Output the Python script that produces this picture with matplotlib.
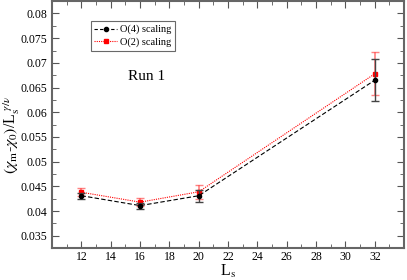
import numpy as np
import matplotlib.pyplot as plt
from matplotlib.lines import Line2D
from matplotlib.ticker import MultipleLocator

plt.rcParams['font.family'] = ['Liberation Serif', 'DejaVu Serif']
plt.rcParams['mathtext.fontset'] = 'stix'

Ls = [12, 16, 20, 32]
o4 = [0.0431, 0.0411, 0.0431, 0.0665]
o4_err = [0.0006, 0.0006, 0.0012, 0.0042]
o2 = [0.0438, 0.0418, 0.0439, 0.0678]
o2_err = [0.0008, 0.0008, 0.0014, 0.0043]

fig = plt.figure(figsize=(4.07, 2.8), dpi=100)
ax = fig.add_axes([0.128, 0.114, 0.865, 0.882])

ax.errorbar(Ls, o4, yerr=o4_err, color='black', ls=(0, (4, 2)), lw=0.8,
            marker='o', ms=3, capsize=3, elinewidth=1, ecolor='#444444', zorder=3)
ax.errorbar(Ls, o2, yerr=o2_err, color='red', ls=(0, (1, 1)), lw=0.8,
            marker='s', ms=3, capsize=3, elinewidth=1.2, ecolor=(1, 0.3, 0.3, 0.7), zorder=2)

ax.set_xlim(10, 34)
ax.set_ylim(0.0325, 0.0825)
ax.xaxis.set_minor_locator(MultipleLocator(1))
ax.yaxis.set_major_locator(MultipleLocator(0.005))
ax.yaxis.set_minor_locator(MultipleLocator(0.0025))
ax.set_xticks(np.arange(12, 33, 2))
ax.tick_params(which='both', direction='in', top=True, right=True, labelsize=8.5, color='#555555')
ax.tick_params(which='major', length=5)
ax.tick_params(which='minor', length=3)
ax.tick_params(axis='x', pad=2)
ax.yaxis.set_major_formatter(plt.FuncFormatter(lambda v, p: ('%.3f' % v).rstrip('0')))
for s in ax.spines.values():
    s.set_color('#666666')
    s.set_linewidth(1.5)

ax.set_xlabel(r'L$_\mathrm{s}$', fontsize=11.5, labelpad=0)
fig.text(12 / 407, 0.52, r'$(\chi_\mathrm{m}$-$\chi_0)$/L$_\mathrm{s}^{\ \gamma/\nu}$',
         fontsize=11.5, rotation=90, ha='center', va='center')
ax.text(15.2, 0.0665, 'Run 1', fontsize=11)

handles = [Line2D([], [], color='black', ls=(0, (3, 2)), lw=0.8, marker='o', ms=3),
           Line2D([], [], color='red', ls=(0, (1, 1)), lw=0.8, marker='s', ms=3)]
leg = ax.legend(handles, ['O(4) scaling', 'O(2) scaling'], loc='upper left',
                bbox_to_anchor=(0.095, 0.94), fontsize=7.5,
                frameon=True, fancybox=False, edgecolor='#444444',
                handlelength=2.2, borderpad=0.35, labelspacing=0.3, handletextpad=0.3)
leg.get_frame().set_linewidth(0.8)

fig.savefig('out.png', dpi=100)
